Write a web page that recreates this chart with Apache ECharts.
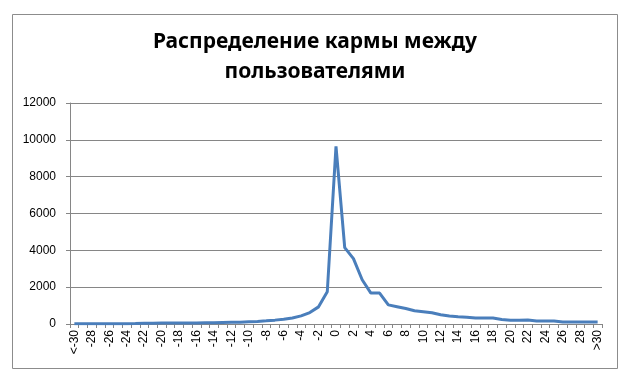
<!DOCTYPE html>
<html>
<head>
<meta charset="utf-8">
<script src="https://cdn.jsdelivr.net/npm/echarts@6/dist/echarts.min.js"></script>
<style>html,body{margin:0;padding:0;background:#fff}#c{width:630px;height:380px}</style>
</head>
<body>
<div id="c"></div>
<script>
var titleText = 'Распределение кармы между\nпользователями';
var categories = ['<-30','-29','-28','-27','-26','-25','-24','-23','-22','-21','-20','-19','-18','-17','-16','-15','-14','-13','-12','-11','-10','-9','-8','-7','-6','-5','-4','-3','-2','-1','0','1','2','3','4','5','6','7','8','9','10','11','12','13','14','15','16','17','18','19','20','21','22','23','24','25','26','27','28','29','>30'];
var values = [15,15,15,15,20,20,20,25,40,45,50,50,55,55,60,65,70,80,90,100,120,140,170,210,260,330,440,620,930,1750,9650,4150,3550,2400,1680,1680,1040,940,840,720,670,610,500,430,390,370,325,325,320,250,200,200,215,165,165,160,110,110,110,110,105];
var yTicks = {min: 0, max: 12000, interval: 2000};

var chart = echarts.init(document.getElementById('c'));
chart.setOption({
  animation: false,
  backgroundColor: '#fff',
  graphic: [{type: 'rect', shape: {x: 12.5, y: 14.5, width: 605, height: 354}, style: {fill: 'none', stroke: '#8c8c8c', lineWidth: 1}, z: -1}],
  title: {
    text: titleText, left: 'center', top: 22,
    textStyle: {fontFamily: 'Noto Sans', fontWeight: 'bold', fontSize: 21, lineHeight: 30, color: '#000'}
  },
  grid: {left: 70, right: 28, top: 103, bottom: 56, containLabel: false},
  xAxis: {
    type: 'category', data: categories, boundaryGap: true,
    axisLine: {lineStyle: {color: '#868686', width: 1}},
    axisTick: {show: true, interval: 0, length: 4, lineStyle: {color: '#868686'}},
    axisLabel: {interval: 1, rotate: 90, fontFamily: 'Liberation Sans', fontSize: 12, color: '#000', margin: 6}
  },
  yAxis: {
    type: 'value', min: yTicks.min, max: yTicks.max, interval: yTicks.interval,
    axisLine: {show: true, lineStyle: {color: '#868686', width: 1}},
    axisTick: {show: true, length: 4, lineStyle: {color: '#868686'}},
    axisLabel: {fontFamily: 'Liberation Sans', fontSize: 12, color: '#000', margin: 14, formatter: function (v) { return String(v); }},
    splitLine: {lineStyle: {color: '#868686', width: 1}}
  },
  series: [{
    type: 'line', data: values, showSymbol: false, symbol: 'none',
    lineStyle: {color: '#4a7ebb', width: 3}, itemStyle: {color: '#4a7ebb'}
  }]
});
</script>
</body>
</html>
